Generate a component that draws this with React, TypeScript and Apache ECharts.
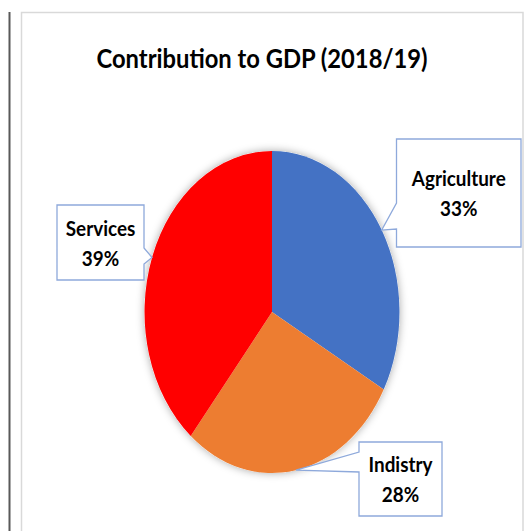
import React, { useEffect, useRef } from "react";
import * as echarts from "echarts";

const titleText = "Contribution to GDP (2018/19)";
const categories = ["Agriculture", "Indistry", "Services"];
const values = [33, 28, 39];
const colors = ["#4472C4", "#ED7D31", "#FF0000"];

// layout (pixels): pie ellipse and callout boxes
const pieCenter = [272, 312];
const pieRadiusX = 127.5;
const pieRadiusY = 161;
// box: [left, top, right, bottom], side where the pointer leaves, pointer base span
const calloutBoxes = [
  { box: [396.5, 139, 521, 247], side: "left", base: [203, 229] },
  { box: [359, 442, 442, 516], side: "left", base: [452, 472] },
  { box: [57, 205, 144, 280], side: "right", base: [248, 264] },
];

const FONT = "Lato, 'Open Sans', sans-serif";

export default function App() {
  const ref = useRef<HTMLDivElement>(null);
  useEffect(() => {
    if (!ref.current) return;
    const chart = echarts.init(ref.current, undefined, { renderer: "svg" });
    const total = values.reduce((a, b) => a + b, 0);
    const starts: number[] = [];
    values.reduce((acc, v, i) => {
      starts[i] = acc;
      return acc + v;
    }, 0);

    const renderItem = (params: any, api: any) => {
      const i = params.dataIndex;
      const v = api.value(0);
      const f0 = starts[i] / total;
      const f1 = (starts[i] + v) / total;
      const fm = (f0 + f1) / 2;
      const [cx, cy] = pieCenter;
      const children: any[] = [];
      if (i === 0) {
        children.push({
          type: "ellipse",
          shape: { cx, cy, rx: pieRadiusX, ry: pieRadiusY },
          style: { fill: "#ffffff", shadowBlur: 9, shadowColor: "rgba(0,0,0,0.35)" },
          z2: -1,
        });
      }
      children.push({
        type: "sector",
        x: cx,
        y: cy,
        scaleY: pieRadiusY / pieRadiusX,
        shape: {
          cx: 0,
          cy: 0,
          r0: 0,
          r: pieRadiusX,
          startAngle: -Math.PI / 2 + f0 * Math.PI * 2,
          endAngle: -Math.PI / 2 + f1 * Math.PI * 2,
          clockwise: true,
        },
        style: { fill: colors[i] },
        z2: 1,
      });
      // callout pointer tip at the middle of the slice on the rim
      const th = fm * Math.PI * 2;
      const tip = [cx + pieRadiusX * Math.sin(th), cy - pieRadiusY * Math.cos(th)];
      const c = calloutBoxes[i];
      const [l, t, r, b] = c.box;
      let pts: number[][];
      if (c.side === "left") {
        pts = [[l, t], [r, t], [r, b], [l, b], [l, c.base[1]], tip, [l, c.base[0]]];
      } else {
        pts = [[l, t], [r, t], [r, c.base[0]], tip, [r, c.base[1]], [r, b], [l, b]];
      }
      children.push({
        type: "polygon",
        shape: { points: pts },
        style: { fill: "#ffffff", stroke: "#8EA9DB", lineWidth: 1.3 },
        z2: 10,
      });
      children.push({
        type: "text",
        x: (l + r) / 2,
        y: (t + b) / 2,
        scaleX: 0.9,
        style: {
          text: categories[i] + "\n" + Math.round((v / total) * 100) + "%",
          fontFamily: FONT,
          fontWeight: "bold",
          fontSize: 21,
          lineHeight: 30,
          fill: "#000000",
          align: "center",
          verticalAlign: "middle",
        },
        z2: 11,
      });
      return { type: "group", children };
    };

    chart.setOption({
      animation: false,
      backgroundColor: "#ffffff",
      graphic: [
        {
          type: "line",
          shape: { x1: 9.5, y1: 12, x2: 9.5, y2: 531 },
          style: { stroke: "#595959", lineWidth: 2 },
        },
        {
          type: "polyline",
          shape: { points: [[21.5, 531], [21.5, 12.5], [523, 12.5], [523, 531]] },
          style: { stroke: "#d9d9d9", lineWidth: 1.5, fill: null },
        },
        {
          type: "text",
          x: 262,
          y: 57,
          scaleX: 0.88,
          style: {
            text: titleText,
            fontFamily: FONT,
            fontWeight: "bold",
            fontSize: 27,
            fill: "#000000",
            align: "center",
            verticalAlign: "middle",
          },
        },
      ],
      series: [
        {
          type: "custom",
          coordinateSystem: "none",
          renderItem,
          data: values.map((v, i) => ({ name: categories[i], value: v })),
        },
      ],
    });
    return () => chart.dispose();
  }, []);
  return (
    <div
      ref={ref}
      style={{ position: "fixed", left: 0, top: 0, width: 532, height: 531 }}
    />
  );
}
